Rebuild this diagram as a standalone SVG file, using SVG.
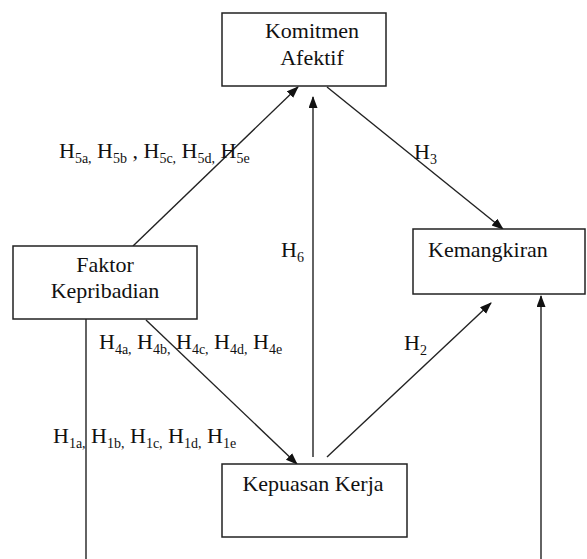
<svg xmlns="http://www.w3.org/2000/svg" width="587" height="559" viewBox="0 0 587 559">
<defs>
<marker id="ah" markerUnits="userSpaceOnUse" markerWidth="12" markerHeight="10" refX="11" refY="4.5" orient="auto">
<path d="M0,0 L12,4.5 L0,9 z" fill="#111"/>
</marker>
</defs>
<rect width="587" height="559" fill="#fff"/>
<g id="connectors" stroke="#222" stroke-width="1.4" fill="none">
<line x1="133" y1="246" x2="298" y2="87" marker-end="url(#ah)"/>
<line x1="327" y1="87" x2="503" y2="229" marker-end="url(#ah)"/>
<line x1="313" y1="457" x2="313" y2="97" marker-end="url(#ah)"/>
<line x1="327" y1="457" x2="491" y2="303" marker-end="url(#ah)"/>
<line x1="146" y1="320" x2="297" y2="464" marker-end="url(#ah)"/>
<line x1="86" y1="319" x2="86" y2="559"/>
<line x1="541" y1="559" x2="541" y2="296" marker-end="url(#ah)"/>
</g>
<text x="59" y="158" font-family="Liberation Serif, serif" font-size="22" fill="#111">H<tspan font-size="14" dy="5">5a,</tspan><tspan font-size="22" dy="-5"> H</tspan><tspan font-size="14" dy="5">5b</tspan><tspan font-size="22" dy="-5"> , H</tspan><tspan font-size="14" dy="5">5c,</tspan><tspan font-size="22" dy="-5"> H</tspan><tspan font-size="14" dy="5">5d,</tspan><tspan font-size="22" dy="-5"> H</tspan><tspan font-size="14" dy="5">5e</tspan></text>
<text x="414" y="159" font-family="Liberation Serif, serif" font-size="22" fill="#111">H<tspan font-size="14" dy="5">3</tspan></text>
<text x="281" y="257" font-family="Liberation Serif, serif" font-size="22" fill="#111">H<tspan font-size="14" dy="5">6</tspan></text>
<text x="404" y="350" font-family="Liberation Serif, serif" font-size="22" fill="#111">H<tspan font-size="14" dy="5">2</tspan></text>
<text x="99" y="349" font-family="Liberation Serif, serif" font-size="22" fill="#111">H<tspan font-size="14" dy="5">4a,</tspan><tspan font-size="22" dy="-5"> H</tspan><tspan font-size="14" dy="5">4b,</tspan><tspan font-size="22" dy="-5"> H</tspan><tspan font-size="14" dy="5">4c,</tspan><tspan font-size="22" dy="-5"> H</tspan><tspan font-size="14" dy="5">4d,</tspan><tspan font-size="22" dy="-5"> H</tspan><tspan font-size="14" dy="5">4e</tspan></text>
<text x="53" y="443" font-family="Liberation Serif, serif" font-size="22" fill="#111">H<tspan font-size="14" dy="5">1a,</tspan><tspan font-size="22" dy="-5"> H</tspan><tspan font-size="14" dy="5">1b,</tspan><tspan font-size="22" dy="-5"> H</tspan><tspan font-size="14" dy="5">1c,</tspan><tspan font-size="22" dy="-5"> H</tspan><tspan font-size="14" dy="5">1d,</tspan><tspan font-size="22" dy="-5"> H</tspan><tspan font-size="14" dy="5">1e</tspan></text>
<g id="komitmen">
<rect x="222" y="13" width="164" height="73" fill="#fff" stroke="#222" stroke-width="1.5"/>
<text x="312" y="38" text-anchor="middle" font-family="Liberation Serif, serif" font-size="22" fill="#111">Komitmen</text>
<text x="312" y="65" text-anchor="middle" font-family="Liberation Serif, serif" font-size="22" fill="#111">Afektif</text>
</g>
<g id="faktor">
<rect x="13" y="246" width="184" height="73" fill="#fff" stroke="#222" stroke-width="1.5"/>
<text x="105" y="272" text-anchor="middle" font-family="Liberation Serif, serif" font-size="22" fill="#111">Faktor</text>
<text x="105" y="298" text-anchor="middle" font-family="Liberation Serif, serif" font-size="22" fill="#111">Kepribadian</text>
</g>
<g id="kemangkiran">
<rect x="413" y="229" width="172" height="65" fill="#fff" stroke="#222" stroke-width="1.5"/>
<text x="428" y="257" font-family="Liberation Serif, serif" font-size="22" fill="#111">Kemangkiran</text>
</g>
<g id="kepuasan">
<rect x="222" y="464" width="185" height="73" fill="#fff" stroke="#222" stroke-width="1.5"/>
<text x="313" y="491" text-anchor="middle" font-family="Liberation Serif, serif" font-size="22" fill="#111">Kepuasan Kerja</text>
</g>
</svg>
